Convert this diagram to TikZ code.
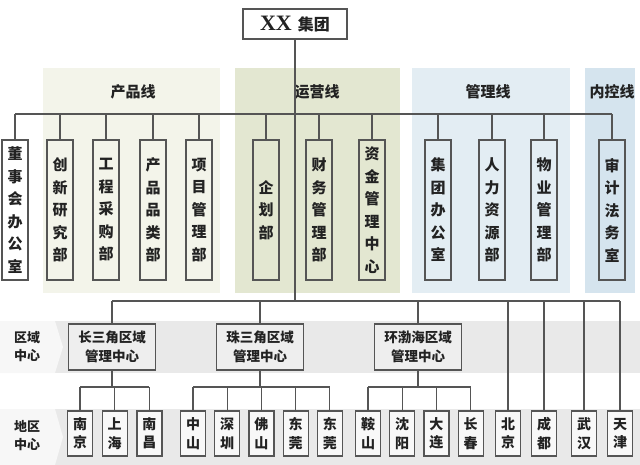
\documentclass[tikz,border=0pt]{standalone}
\usepackage{fontspec}
\newfontfamily\cjk{Noto Sans CJK SC}
\newfontfamily\serifxx{Liberation Serif}
\usetikzlibrary{positioning}

\definecolor{linec}{HTML}{555555}
\definecolor{textc}{HTML}{222222}
\definecolor{prodfill}{HTML}{F3F4EA}
\definecolor{opsfill}{HTML}{E3E7D1}
\definecolor{mgtfill}{HTML}{E3EDF3}
\definecolor{ctlfill}{HTML}{D5E4EE}
\definecolor{bandgray}{HTML}{E9E9E9}
\definecolor{chevfill}{HTML}{F7F7F7}
\definecolor{regfill}{HTML}{EEEEEE}
\definecolor{cityfill}{HTML}{F8F8F8}

\begin{document}
\begin{tikzpicture}[x=1pt, y=-1pt, line width=1.2pt, draw=linec,
      dept/.style={draw=linec, inner sep=0pt, minimum width=26pt, minimum height=140pt, align=center, text=textc, font=\cjk\bfseries\fontsize{15}{22.5}\selectfont},
      region/.style={draw=linec, fill=regfill, inner sep=0pt, minimum width=87pt, minimum height=46pt, align=center, text=textc, font=\cjk\bfseries\fontsize{13.5}{19}\selectfont},
      city/.style={draw=linec, fill=cityfill, inner sep=0pt, minimum width=25pt, minimum height=45pt, align=center, text=textc, font=\cjk\bfseries\fontsize{14}{18.5}\selectfont},
      band/.style={text=textc, font=\cjk\bfseries\fontsize{15}{18}\selectfont},
      side/.style={align=center, text=textc, font=\cjk\bfseries\fontsize{13}{18}\selectfont}]
      \useasboundingbox (0,0) rectangle (640,465);

      % Background bands for the four lines
      \fill[prodfill] (43,68) rectangle (220,293);
      \fill[opsfill] (235,68) rectangle (400,293);
      \fill[mgtfill] (412,68) rectangle (570,293);
      \fill[ctlfill] (585,68) rectangle (635,293);
      \node[band] (lprod) at (133,92) {产品线};
      \node[band] (lops) at (317,92) {运营线};
      \node[band] (lmgt) at (488,92) {管理线};
      \node[band] (lctl) at (612,92) {内控线};

      % Bands for region and city rows
      \fill[bandgray] (0,321) rectangle (640,373);
      \fill[chevfill] (0,321) -- (55,321) -- (63,347) -- (55,373) -- (0,373) -- cycle;
      \node[side] (lreg) at (27,347) {区域\\中心};
      \fill[bandgray] (0,409) rectangle (640,465);
      \fill[chevfill] (0,409) -- (55,409) -- (63,437) -- (55,465) -- (0,465) -- cycle;
      \node[side] (lcity) at (27,436) {地区\\中心};

      % Group
      \node[draw=linec, fill=white, inner sep=0pt, minimum width=104pt, minimum height=30pt, text=textc, font=\cjk\bfseries\fontsize{16}{18}\selectfont] (group) at (295,24) {{\serifxx\fontsize{22}{22}\selectfont XX}\hspace{6pt}集团};

      % Departments
      \foreach \x/\t [count=\i] in {15/{董\\事\\会\\办\\公\\室}, 60/{创\\新\\研\\究\\部}, 106/{工\\程\\采\\购\\部}, 153/{产\\品\\品\\类\\部}, 199/{项\\目\\管\\理\\部}, 266/{企\\划\\部}, 319/{财\\务\\管\\理\\部}, 372/{资\\金\\管\\理\\中\\心}, 438/{集\\团\\办\\公\\室}, 492/{人\\力\\资\\源\\部}, 544/{物\\业\\管\\理\\部}, 612/{审\\计\\法\\务\\室}}
          \node[dept] (dep\i) at (\x,210) {\t};

      % Region centers
      \node[region] (reg1) at (112,347) {长三角区域\\管理中心};
      \node[region] (reg2) at (260,347) {珠三角区域\\管理中心};
      \node[region] (reg3) at (418,347) {环渤海区域\\管理中心};

      % Cities
      \node[city] (nj) at (80,433.5) {南\\京};
      \node[city, right=8.5pt of nj] (sh) {上\\海};
      \node[city, right=8.5pt of sh] (nc) {南\\昌};
      \node[city] (zs) at (193,433.5) {中\\山};
      \node[city, right=8pt of zs] (sz) {深\\圳};
      \node[city, right=8pt of sz] (fs) {佛\\山};
      \node[city, right=8pt of fs] (dg1) {东\\莞};
      \node[city, right=8pt of dg1] (dg2) {东\\莞};
      \node[city] (as) at (368,433.5) {鞍\\山};
      \node[city, right=8pt of as] (sy) {沈\\阳};
      \node[city, right=8pt of sy] (dl) {大\\连};
      \node[city, right=8pt of dl] (cc) {长\\春};
      \node[city] (bj) at (508,433.5) {北\\京};
      \node[city] (cd) at (544,433.5) {成\\都};
      \node[city] (wh) at (584,433.5) {武\\汉};
      \node[city] (tj) at (620,433.5) {天\\津};

      % Connections, upper part
      \coordinate (bar) at (0,114);
      \coordinate (lowbar) at (0,301);
      \coordinate (gbar) at (0,387);
      \draw (group.south) -- (group.south |- lowbar);
      \draw (dep1.north |- bar) -- (dep12.north |- bar);
      \foreach \i in {1,...,12}
          \draw (dep\i.north) -- (dep\i.north |- bar);

      % Connections, lower part
      \draw (reg1.north |- lowbar) -- (tj.north |- lowbar);
      \foreach \r in {reg1,reg2,reg3} {
          \draw (\r.north) -- (\r.north |- lowbar);
          \draw (\r.south) -- (\r.south |- gbar);
      }
      \draw (nj.north |- gbar) -- (nc.north |- gbar);
      \draw (zs.north |- gbar) -- (dg2.north |- gbar);
      \draw (as.north |- gbar) -- (cc.north |- gbar);
      \foreach \c in {nj,sh,nc,zs,sz,fs,dg1,dg2,as,sy,dl,cc}
          \draw (\c.north) -- (\c.north |- gbar);
      \foreach \c in {bj,cd,wh,tj}
          \draw (\c.north) -- (\c.north |- lowbar);

\end{tikzpicture}
\end{document}
